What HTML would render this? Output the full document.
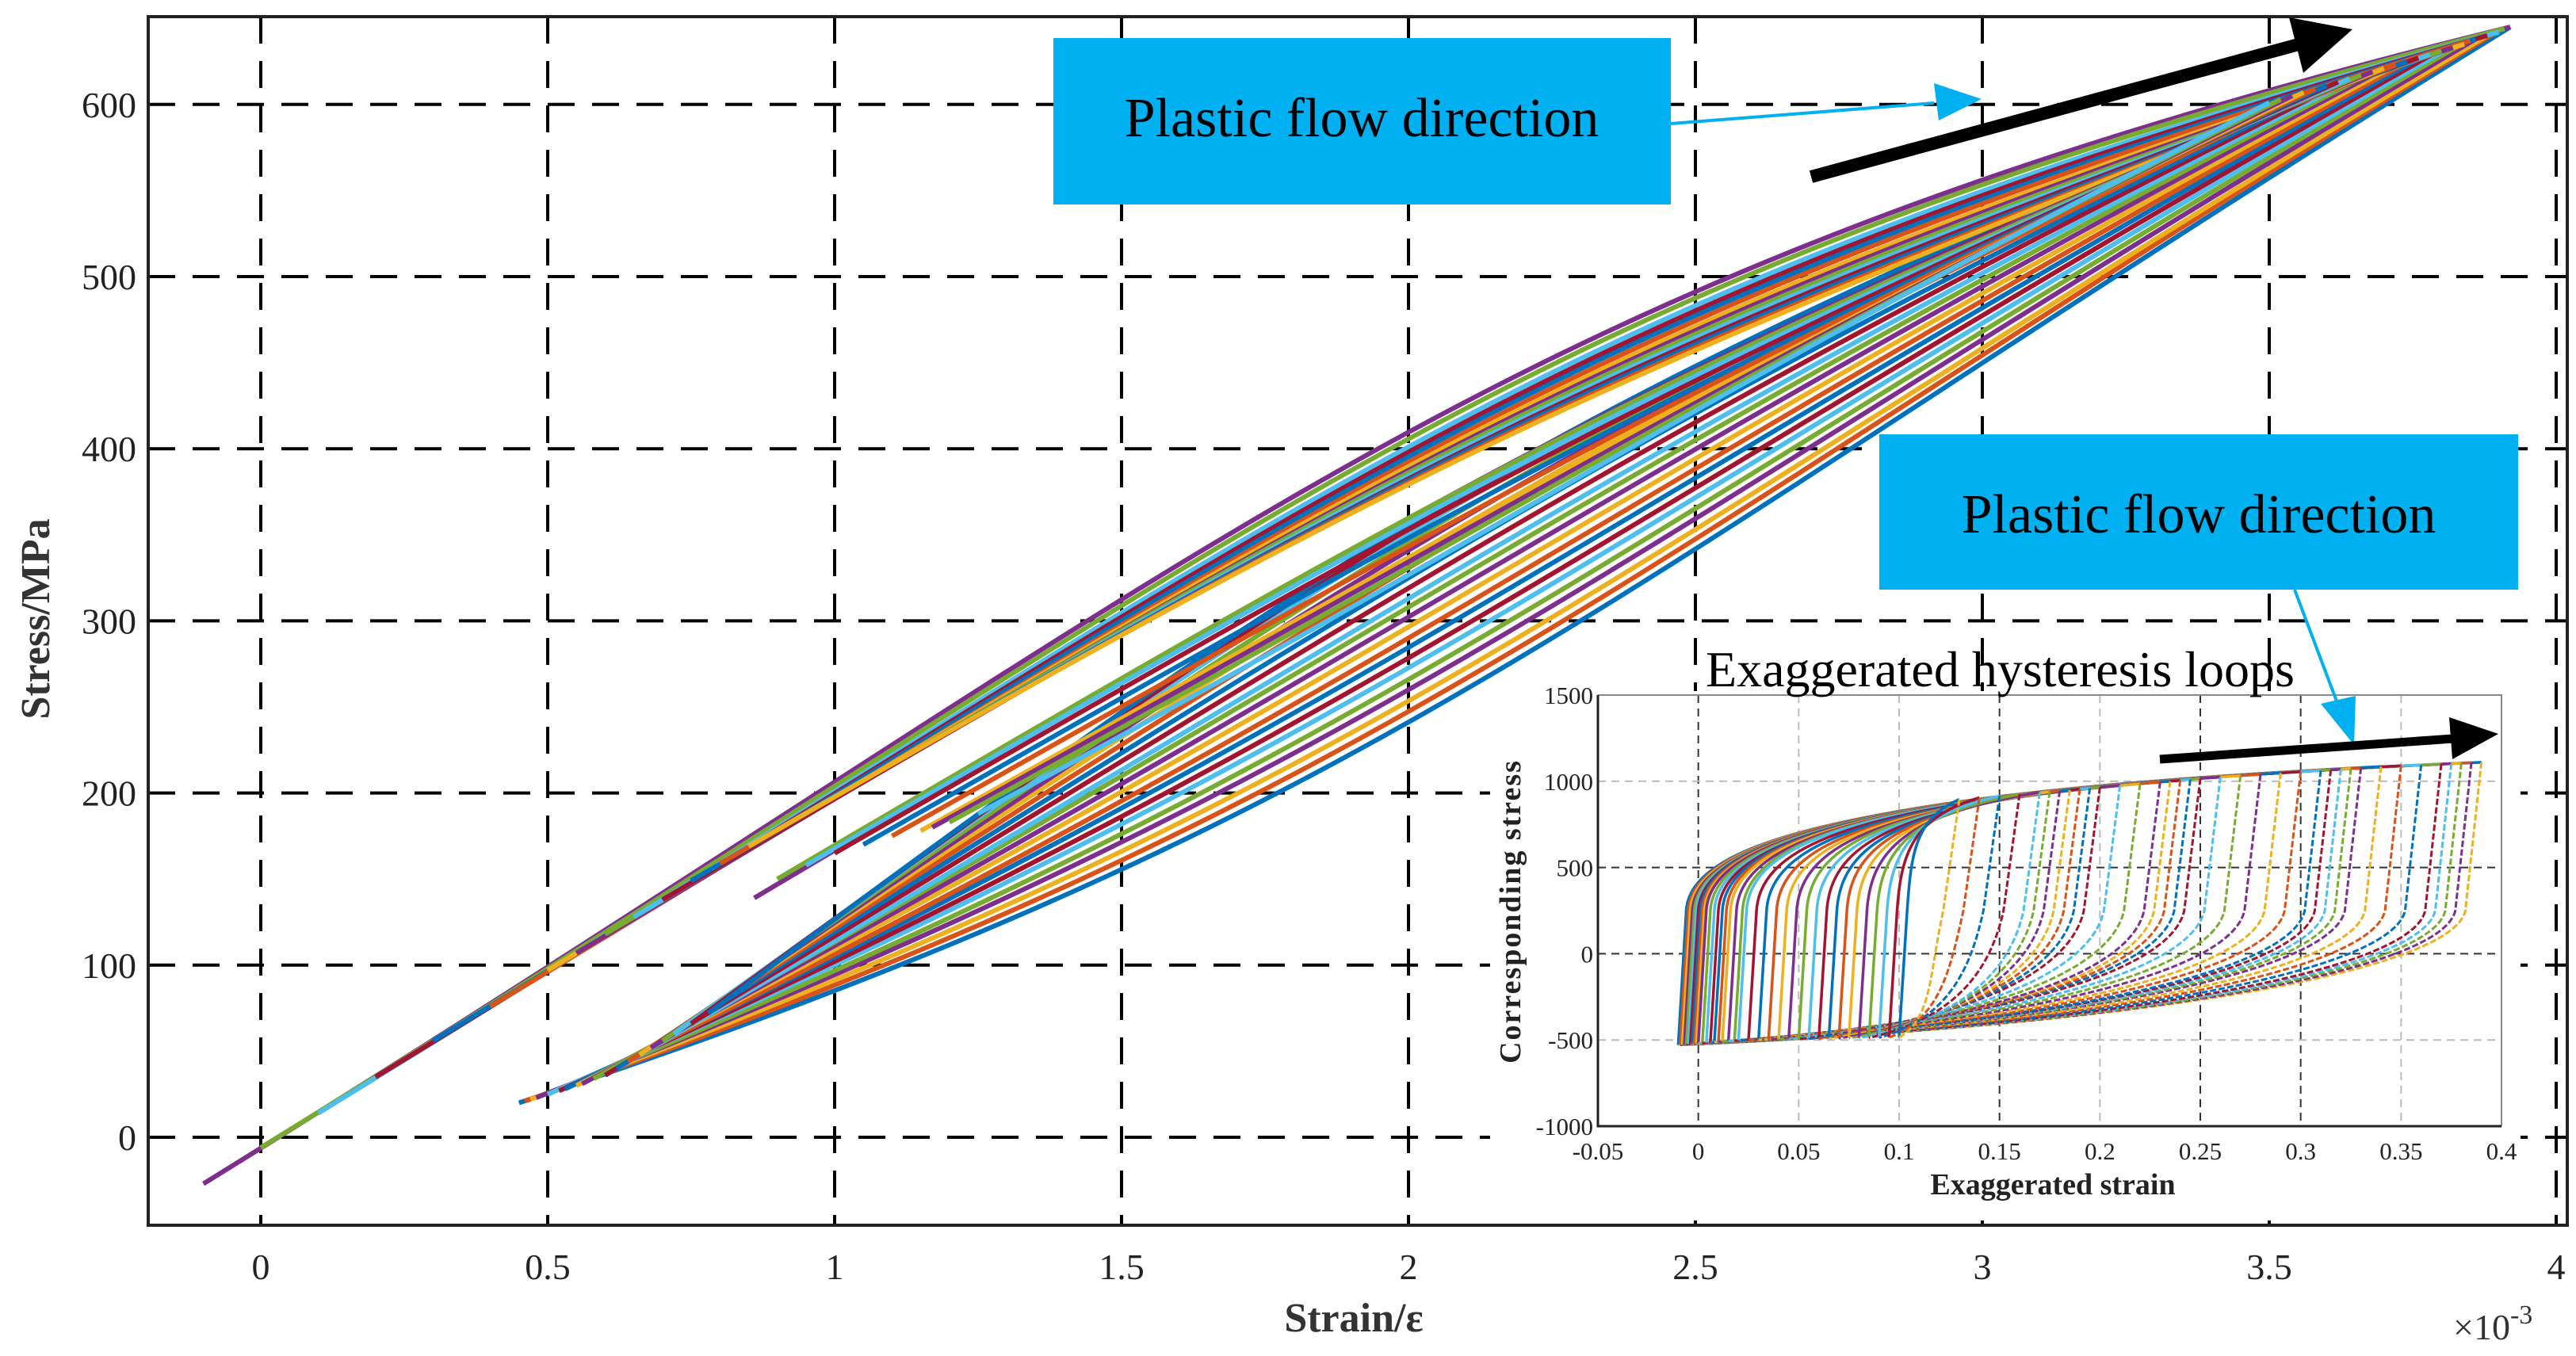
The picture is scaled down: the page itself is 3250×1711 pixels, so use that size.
<!DOCTYPE html>
<html><head><meta charset="utf-8"><style>
html,body{margin:0;padding:0;background:#fff;}
svg{display:block;font-family:"Liberation Serif",serif;}
</style></head><body>
<svg id="chart" width="3250" height="1711" viewBox="0 0 3250 1711" xmlns="http://www.w3.org/2000/svg">
<g id="main-grid"></g>
<g id="main-curves"></g>
<rect x="187" y="21" width="3052" height="1525" fill="none" stroke="#222" stroke-width="4"/>
<g id="main-ticks"></g>
<text x="1708" y="1680" font-size="52" font-weight="bold" text-anchor="middle" fill="#333">Strain/ε</text>
<text transform="translate(62,781) rotate(-90)" font-size="52" font-weight="bold" text-anchor="middle" fill="#333">Stress/MPa</text>
<text x="3095" y="1690" font-size="46" fill="#333">×10<tspan dy="-20" font-size="34">-3</tspan></text>

<rect x="1880" y="872" width="1300" height="668" fill="#fff"/>
<g id="inset-grid"></g>
<g id="inset-curves"></g>
<g id="inset-axes"></g>
<text x="2152" y="866" font-size="64" fill="#000">Exaggerated hysteresis loops</text>
<text x="2590" y="1507" font-size="38" font-weight="bold" text-anchor="middle" fill="#222">Exaggerated strain</text>
<text transform="translate(1918,1150) rotate(-90)" font-size="38" font-weight="bold" text-anchor="middle" fill="#222" letter-spacing="2">Corresponding stress</text>

<rect x="1329" y="48" width="779" height="210" fill="#00B0F0"/>
<text x="1718" y="172" font-size="70" text-anchor="middle" fill="#000">Plastic flow direction</text>
<rect x="2371" y="548" width="806" height="196" fill="#00B0F0"/>
<text x="2774" y="672" font-size="70" text-anchor="middle" fill="#000">Plastic flow direction</text>

<g>
<line x1="2108" y1="156" x2="2440" y2="130" stroke="#00B0F0" stroke-width="4"/>
<polygon points="2500,125 2440,105 2446,152" fill="#00B0F0"/>
</g>
<g>
<line x1="2895" y1="744" x2="2950" y2="890" stroke="#00B0F0" stroke-width="4"/>
<polygon points="2970,940 2928,888 2972,878" fill="#00B0F0"/>
</g>
<g>
<line x1="2285" y1="223" x2="2900" y2="56" stroke="#000" stroke-width="16"/>
<polygon points="2968,37 2888,22 2906,92" fill="#000"/>
</g>
<g>
<line x1="2725" y1="958" x2="3095" y2="932" stroke="#000" stroke-width="11"/>
<polygon points="3152,926 3090,905 3094,958" fill="#000"/>
</g>
</svg>
<script>
// ---------- main chart data ----------
const xTicks = [0, 0.5, 1, 1.5, 2, 2.5, 3, 3.5, 4];
const xTickLabels = ["0", "0.5", "1", "1.5", "2", "2.5", "3", "3.5", "4"];
const yTicks = [0, 100, 200, 300, 400, 500, 600];
const yTickLabels = ["0", "100", "200", "300", "400", "500", "600"];

// loading branches (upper bundle): start point, start slope (MPa per 1e-3), end point, end slope
const upStartX = [-0.1, 0.0, 0.1, 0.2, 0.3, 0.4, 0.5, 0.55, 0.6, 0.65, 0.7, 0.75, 0.8, 0.85, 0.86, 0.9, 0.95, 1.0, 1.05, 1.1, 1.15, 1.17, 1.2, 1.25];
const upStartY = [-27, -6, 14, 35, 56, 76, 97, 107, 118, 128, 138, 149, 159, 169, 139, 150, 158, 165, 170, 175, 178, 180, 183, 188];
const upStartSlope = [206, 205, 204, 203, 202, 201, 200, 199, 198, 197, 196, 195, 194, 193, 198, 196, 194, 192, 190, 188, 186, 184, 182, 180];
const upEndX = [3.92, 3.91, 3.9, 3.88, 3.86, 3.85, 3.84, 3.82, 3.8, 3.78, 3.76, 3.74, 3.72, 3.7, 3.68, 3.66, 3.64, 3.62, 3.6, 3.58, 3.56, 3.54, 3.52, 3.5];
const upEndY = [645, 644, 642, 640, 638, 637, 635, 633, 631, 629, 627, 625, 623, 621, 619, 617, 615, 613, 611, 609, 607, 605, 603, 601];
const upEndSlope = [82, 86, 90, 94, 98, 102, 106, 110, 114, 118, 122, 126, 130, 134, 138, 142, 146, 150, 154, 158, 162, 165, 168, 170];

// unloading branches (lower bundle)
const lowStartX = [0.45, 0.46, 0.47, 0.48, 0.5, 0.5, 0.52, 0.53, 0.55, 0.55, 0.56, 0.58, 0.6, 0.6, 0.62, 0.64, 0.66, 0.68, 0.7, 0.72, 0.75, 0.78];
const lowStartY = [20, 21, 22, 23, 25, 25, 27, 28, 30, 30, 31, 34, 36, 36, 40, 44, 48, 52, 56, 60, 66, 72];
const lowStartSlope = [110, 117, 124, 131, 138, 145, 152, 159, 166, 173, 180, 187, 194, 201, 208, 215, 222, 228, 234, 240, 245, 250];
const lowEndX = [3.92, 3.9, 3.89, 3.87, 3.85, 3.83, 3.81, 3.79, 3.77, 3.75, 3.73, 3.71, 3.69, 3.67, 3.65, 3.63, 3.61, 3.6, 3.58, 3.56, 3.55, 3.54];
const lowEndY = [645, 643, 642, 640, 638, 636, 634, 632, 630, 628, 626, 624, 622, 620, 618, 616, 614, 613, 611, 610, 608, 606];
const lowEndSlope = [205, 203, 200, 197, 194, 191, 188, 185, 182, 179, 176, 173, 170, 167, 164, 161, 158, 155, 152, 150, 148, 146];

// ---------- inset data ----------
const insetXTicks = [-0.05, 0, 0.05, 0.1, 0.15, 0.2, 0.25, 0.3, 0.35, 0.4];
const insetXLabels = ["-0.05", "0", "0.05", "0.1", "0.15", "0.2", "0.25", "0.3", "0.35", "0.4"];
const insetYTicks = [-1000, -500, 0, 500, 1000, 1500];
const insetYLabels = ["-1000", "-500", "0", "500", "1000", "1500"];
const loopLeft = [-0.01, -0.009, -0.008, -0.007, -0.006, -0.005, -0.004, -0.003, -0.002, -0.001, 0, 0.002, 0.004, 0.006, 0.008, 0.01, 0.012, 0.015, 0.018, 0.02, 0.025, 0.03, 0.035, 0.04, 0.045, 0.05, 0.055, 0.06, 0.065, 0.07, 0.075, 0.08, 0.085, 0.09, 0.095, 0.1];
const loopRight = [0.39, 0.385, 0.38, 0.375, 0.37, 0.36, 0.35, 0.34, 0.33, 0.325, 0.32, 0.315, 0.31, 0.3, 0.29, 0.28, 0.27, 0.26, 0.25, 0.245, 0.24, 0.235, 0.23, 0.22, 0.21, 0.2, 0.195, 0.19, 0.185, 0.18, 0.175, 0.17, 0.16, 0.15, 0.14, 0.13];
const loopTop = [1110, 1108, 1105, 1102, 1100, 1095, 1090, 1085, 1078, 1074, 1070, 1066, 1062, 1055, 1048, 1040, 1032, 1024, 1015, 1010, 1005, 1000, 995, 985, 975, 965, 960, 955, 950, 945, 940, 935, 925, 915, 905, 895];
const loopBottom = [-530, -529, -528, -527, -526, -525, -524, -523, -522, -521, -520, -518, -516, -514, -512, -510, -508, -506, -504, -502, -500, -499, -498, -497, -496, -495, -494, -493, -492, -491, -490, -489, -488, -487, -486, -485];

const colors = ["#0072BD", "#D95319", "#EDB120", "#7E2F8E", "#77AC30", "#4DBEEE", "#A2142F"];
const NS = "http://www.w3.org/2000/svg";

function X(v) { return 329 + v * 724; }
function Y(v) { return 1435 - v * 2.172; }
function IX(v) { return 2016 + (v + 0.05) / 0.45 * 1140; }
function IY(v) { return 1421 - (v + 1000) / 2500 * 544; }
function mk(tag, parent, attrs) {
  const e = document.createElementNS(NS, tag);
  for (const k in attrs) e.setAttribute(k, attrs[k]);
  parent.appendChild(e);
  return e;
}

const grid = document.getElementById("main-grid");
const ticks = document.getElementById("main-ticks");
xTicks.forEach((t, i) => {
  const l = mk("line", grid, {x1: X(t), x2: X(t), y1: 21, y2: 1546, stroke: "#000", "stroke-width": 4, "stroke-dasharray": "34 22"});
  
  
  const tx = mk("text", ticks, {x: X(t), y: 1614, "font-size": 46, "text-anchor": "middle", fill: "#222"});
  tx.textContent = xTickLabels[i];
  
  
});
yTicks.forEach((t, i) => {
  const l = mk("line", grid, {x1: 187, x2: 3239, y1: Y(t), y2: Y(t), stroke: "#000", "stroke-width": 4, "stroke-dasharray": "34 22"});
  
  
  const tx = mk("text", ticks, {x: 172, y: Y(t) + 16, "font-size": 46, "text-anchor": "end", fill: "#222"});
  tx.textContent = yTickLabels[i];
  
  
});

const curves = document.getElementById("main-curves");
function branch(sx, sy, ss, ex, ey, es, color, name) {
  const h = 0.45 * (ex - sx);
  const d = `M${X(sx)},${Y(sy)} C${X(sx + h)},${Y(sy + ss * h)} ${X(ex - h)},${Y(ey - es * h)} ${X(ex)},${Y(ey)}`;
  const p = mk("path", curves, {d: d, fill: "none", stroke: color, "stroke-width": 6});
  
  
}
lowStartX.forEach((s, i) => branch(s, lowStartY[i], lowStartSlope[i], lowEndX[i], lowEndY[i], lowEndSlope[i], colors[i % 7], 'unloading-branch'));
upStartX.forEach((s, i) => branch(s, upStartY[i], upStartSlope[i], upEndX[i], upEndY[i], upEndSlope[i], colors[(i + 3) % 7], 'loading-branch'));

// inset
const ig = document.getElementById("inset-grid");
const ia = document.getElementById("inset-axes");
const ic = document.getElementById("inset-curves");
insetXTicks.forEach((t, i) => {
  const dark = [0, 0.15, 0.25, 0.3].some(v => Math.abs(v - t) < 1e-9);
  if (i > 0 && i < insetXTicks.length - 1) {
    const l = mk("line", ig, {x1: IX(t), x2: IX(t), y1: 877, y2: 1421, stroke: dark ? "#333" : "#bbb", "stroke-width": 2, "stroke-dasharray": "10 7"});
    
    
  }
  const tx = mk("text", ia, {x: IX(t), y: 1463, "font-size": 31, "text-anchor": "middle", fill: "#222"});
  tx.textContent = insetXLabels[i];
  
  
});
insetYTicks.forEach((t, i) => {
  const dark = (t === 0 || t === 500);
  if (i > 0 && i < insetYTicks.length - 1) {
    const l = mk("line", ig, {x1: 2016, x2: 3156, y1: IY(t), y2: IY(t), stroke: dark ? "#333" : "#bbb", "stroke-width": 2, "stroke-dasharray": "10 7"});
    
    
  }
  const tx = mk("text", ia, {x: 2010, y: IY(t) + 11, "font-size": 31, "text-anchor": "end", fill: "#222"});
  tx.textContent = insetYLabels[i];
  
  
});
const fr1 = mk("path", ia, {d: "M2016,877 L3156,877 L3156,1421", fill: "none", stroke: "#888", "stroke-width": 2});


const fr2 = mk("path", ia, {d: "M2016,877 L2016,1421 L3156,1421", fill: "none", stroke: "#222", "stroke-width": 3});



loopRight.forEach((xr, i) => {
  const xl = loopLeft[i], top = loopTop[i], bot = loopBottom[i];
  const w = xr - xl;
  const up = `M${IX(xl)},${IY(bot)} L${IX(xl + 0.004)},${IY(250)} C${IX(xl + 0.006)},${IY(250 + 0.5 * (top - 250))} ${IX(xl + 0.25 * w)},${IY(250 + 0.82 * (top - 250))} ${IX(xr)},${IY(top)}`;
  const down = `M${IX(xr)},${IY(top)} L${IX(xr - 0.008)},${IY(250)} C${IX(xr - 0.015)},${IY(-120)} ${IX(xl + 0.55 * w)},${IY(bot + 110)} ${IX(xl)},${IY(bot)}`;
  const p1 = mk("path", ic, {d: up, fill: "none", stroke: colors[i % 7], "stroke-width": 3.5});
  
  
  const p2 = mk("path", ic, {d: down, fill: "none", stroke: colors[(i + 2) % 7], "stroke-width": 3, "stroke-dasharray": "8 3"});
  
  
});
</script>
</body></html>
